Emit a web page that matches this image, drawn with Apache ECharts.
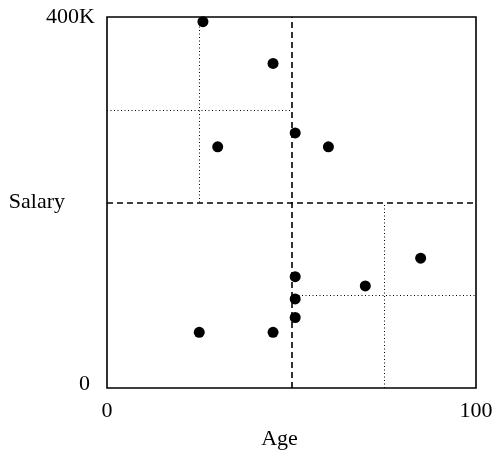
<!DOCTYPE html>
<html>
<head>
<meta charset="utf-8">
<script src="https://cdn.jsdelivr.net/npm/echarts@6/dist/echarts.min.js"></script>
<style>
  html, body { margin: 0; padding: 0; background: #fff; }
  #chart { width: 502px; height: 451px; }
</style>
</head>
<body>
<div id="chart"></div>
<script>
// 数据点 (年龄, 工资 K)
const ages =     [26, 45, 51, 30, 60, 85, 51, 70, 51, 51, 45, 25];
const salaries = [395, 350, 275, 260, 260, 140, 120, 110, 96, 76, 60, 60];

// 划分线 (虚线: 第一层; 点线: 第二层)
const dashedSplits = [
  [[50, 0], [50, 400]],
  [[0, 200], [100, 200]]
];
const dottedSplits = [
  [[25, 200], [25, 400]],
  [[0, 300], [50, 300]],
  [[75, 0], [75, 200]],
  [[50, 100], [100, 100]]
];

const xTicks = [0, 100];
const yTicks = [0, 400];

const font = '"Liberation Serif", "Times New Roman", serif';

const toMarkLine = (segs) => segs.map(s => [{ coord: s[0] }, { coord: s[1] }]);

const chart = echarts.init(document.getElementById('chart'));

chart.setOption({
  animation: false,
  grid: {
    left: 107,
    right: 26,
    top: 17,
    bottom: 63,
    containLabel: false,
    outerBoundsMode: 'none',
    show: true,
    borderColor: '#000',
    borderWidth: 1.6
  },
  xAxis: {
    type: 'value',
    min: xTicks[0],
    max: xTicks[1],
    interval: xTicks[1] - xTicks[0],
    name: 'Age',
    nameLocation: 'middle',
    nameGap: 40,
    nameMoveOverlap: false,
    nameTextStyle: { fontFamily: font, fontSize: 22, color: '#000', padding: [0, 24, 0, 0] },
    axisLine: { show: false },
    axisTick: { show: false },
    splitLine: { show: false },
    axisLabel: { fontFamily: font, fontSize: 22, color: '#000', margin: 12 }
  },
  yAxis: {
    type: 'value',
    min: yTicks[0],
    max: yTicks[1],
    interval: yTicks[1] - yTicks[0],
    name: 'Salary',
    nameLocation: 'middle',
    nameRotate: 0,
    nameGap: 42,
    nameMoveOverlap: false,
    nameTextStyle: { fontFamily: font, fontSize: 22, color: '#000' },
    axisLine: { show: false },
    axisTick: { show: false },
    splitLine: { show: false },
    axisLabel: {
      fontFamily: font, fontSize: 22, color: '#000', margin: 12,
      formatter: v => v === 0 ? '{z|0}' : v + 'K',
      rich: { z: { fontFamily: font, fontSize: 22, color: '#000', padding: [0, 5, 8, 0] } }
    }
  },
  series: [
    {
      type: 'scatter',
      data: [],
      silent: true,
      markLine: {
        silent: true,
        symbol: 'none',
        label: { show: false },
        lineStyle: { color: '#000', width: 1.6, type: [6, 4], opacity: 1 },
        data: toMarkLine(dashedSplits)
      }
    },
    {
      type: 'scatter',
      data: [],
      silent: true,
      markLine: {
        silent: true,
        symbol: 'none',
        label: { show: false },
        lineStyle: { color: '#000', width: 1, type: [1, 2.5], opacity: 1 },
        data: toMarkLine(dottedSplits)
      }
    },
    {
      type: 'scatter',
      symbolSize: 11,
      itemStyle: { color: '#000', opacity: 1 },
      data: ages.map((a, i) => [a, salaries[i]]),
      z: 5
    }
  ]
});
</script>
</body>
</html>
